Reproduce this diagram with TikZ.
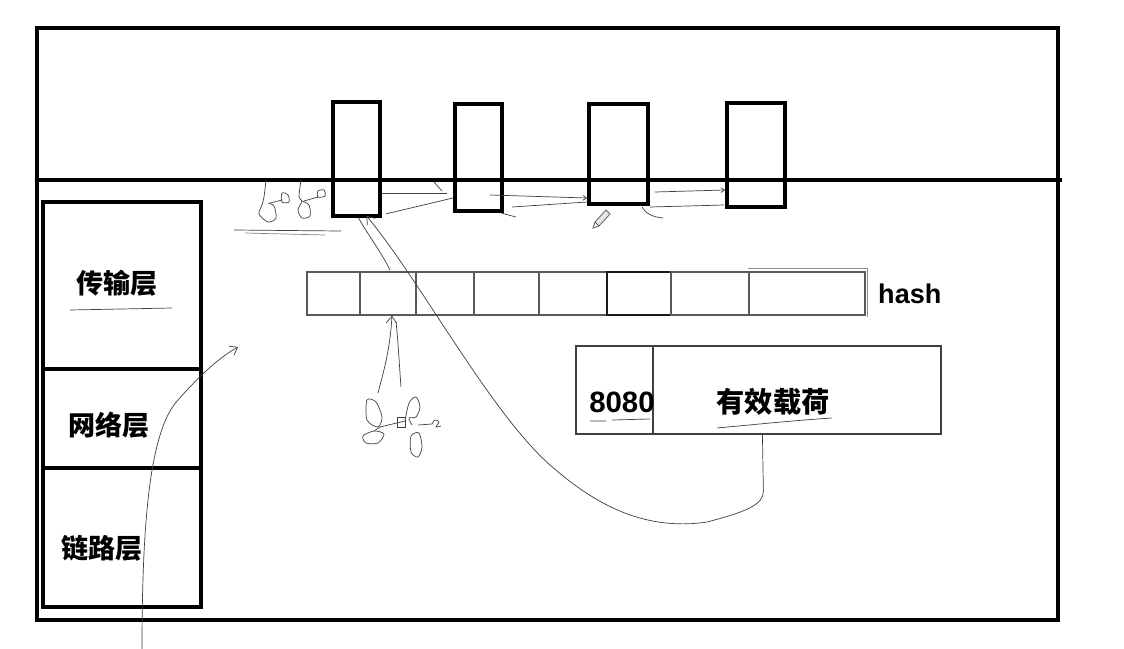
\documentclass[tikz,border=0pt]{standalone}
\usepackage{fontspec}
\setmainfont{Liberation Sans}
\newfontfamily\cjk{Noto Sans CJK SC}
\usetikzlibrary{fit,arrows.meta,calc}
\begin{document}
\begin{tikzpicture}[x=0.85pt,y=-0.85pt,
  framebox/.style={draw, line width=2.8pt, inner sep=0pt},
  tallbox/.style={draw, line width=3.2pt, inner sep=0pt},
  layerbox/.style={draw, line width=3.4pt, inner sep=0pt},
  cellbox/.style={draw=black!65, line width=0.9pt, inner sep=0pt},
  pktbox/.style={draw=black!75, line width=1pt, inner sep=0pt},
  hand/.style={draw=black!75, line width=0.6pt},
  barb/.style={-{Straight Barb[length=6pt,width=9pt]}},
  cjklbl/.style={font=\cjk\bfseries\fontsize{23}{26}\selectfont, inner sep=0pt},
  latlbl/.style={font=\bfseries\fontsize{23}{26}\selectfont, inner sep=0pt}]
\useasboundingbox (0,0) rectangle (1124,648);
\fill[white] (0,0) rectangle (1124,648);

% outer frame and band line
\node[framebox, fit={(37,28) (1058,620)}] (frame) {};
\coordinate (hlend) at (1062,180);
\draw[line width=2.8pt] (frame.west |- hlend) -- (hlend);

% tall boxes
\node[tallbox, fit={(333,102) (380,216)}] (b1) {};
\node[tallbox, fit={(455,104) (502,211)}] (b2) {};
\node[tallbox, fit={(589,104) (648,204)}] (b3) {};
\node[tallbox, fit={(727,103) (785,207)}] (b4) {};

% layer stack
\node[layerbox, fit={(43,202) (201,369)}] (l1) {};
\node[layerbox, fit={(43,369) (201,468)}] (l2) {};
\node[layerbox, fit={(43,468) (201,607)}] (l3) {};
\node[cjklbl] (t1) at (117,283) {传输层};
\node[cjklbl] (t2) at (109,425) {网络层};
\node[cjklbl] (t3) at (102,548) {链路层};
\draw[hand] (70,310) -- (172,308);

% hash array
\node[cellbox, fit={(307,272) (360,315)}] (h1) {};
\node[cellbox, fit={(360,272) (416,315)}] (h2) {};
\node[cellbox, fit={(416,272) (474,315)}] (h3) {};
\node[cellbox, fit={(474,272) (539,315)}] (h4) {};
\node[cellbox, fit={(539,272) (607,315)}] (h5) {};
\node[draw=black!90, line width=1.6pt, inner sep=0pt, fit={(607,272) (671,315)}] (h6) {};
\node[cellbox, fit={(671,272) (749,315)}] (h7) {};
\node[cellbox, fit={(749,272) (865,315)}] (h8) {};
\draw[black!45, line width=0.8pt] (h8.north west) ++(0,-3) -- ++(119,0) -- ++(0,49);
\node[latlbl, anchor=west] (hash) at (878,294) {hash};

% packet
\node[pktbox, fit={(576,346) (653,434)}] (port) {};
\node[pktbox, fit={(653,346) (941,434)}] (pay) {};
\node[latlbl, font=\bfseries\fontsize{25}{28}\selectfont] (p1) at (622,402) {8080};
\node[cjklbl, font=\cjk\bfseries\fontsize{24}{27}\selectfont] (p2) at (773,402) {有效载荷};
\draw[hand] (590,421) -- (606,421) (612,420) -- (650,419);
\draw[hand] (717,428) .. controls (760,424) and (800,420) .. (832,418);

% left rising arrow
\coordinate (lstart) at (142,650);
\coordinate (ltip) at (238,347);
\draw[hand, barb] (lstart) .. controls (142,520) and (150,430) .. (178,400)
   .. controls (200,375) and (220,357) .. (ltip);

% big curve from payload to first box
\coordinate (pstart) at ($(pay.south west)+(110,0)$);
\coordinate (b1tip) at ($(b1.south)+(10,-2)$);
\draw[hand, barb] (pstart) -- ++(1,56)
   .. controls (764,505) and (745,512) .. (707,522)
   .. controls (640,532) and (590,500) .. (550,465)
   .. controls (490,412) and (420,280) .. (b1tip);
\coordinate (b1tail) at (390,270);
\draw[hand] ($(b1.south)+(2,0)$) .. controls (368,235) and (380,250) .. (b1tail);

% arrow under hash cell
\coordinate (s1) at (378,393);
\coordinate (s2) at (401,387);
\draw[hand, barb] (s1) .. controls (384,370) and (390,350) .. (h2.south -| 392,0);
\draw[hand] (s2) .. controls (399,360) and (398,340) .. (396,322);

% scribbles below hash
\draw[hand] plot[smooth cycle] coordinates {(367,400) (376,402) (382,417) (378,427) (367,420)};
\draw[hand] (380,427) -- (405,421);
\draw[hand] plot[smooth] coordinates {(405,421) (409,403) (416,397) (420,407) (416,417) (409,418) (412,425)};
\draw[hand] plot[smooth cycle] coordinates {(363,436) (374,431) (384,434) (378,443) (366,443)};
\draw[hand] (374,431) -- (380,427);
\draw[hand] plot[smooth cycle] coordinates {(411,436) (419,433) (422,447) (418,457) (411,452)};
\draw[hand] (397,417) rectangle (405,427);
\draw[hand] (418,425) -- (432,424);
\draw[hand] plot[smooth] coordinates {(432,424) (435,420) (439,422) (436,427) (441,426)};

% scribbles upper left
\draw[hand] plot[smooth] coordinates {(266,180) (264,197) (262,205) (259,214) (268,222) (276,218) (274,206) (268,203)};
\draw[hand] (270,203) -- (282,200);
\draw[hand] plot[smooth cycle] coordinates {(282,193) (288,195) (289,202) (282,202)};
\draw[hand] plot[smooth] coordinates {(301,180) (299,197) (302,201) (298,210) (302,218) (310,216) (309,205) (302,201)};
\draw[hand] (304,201) -- (318,197);
\draw[hand] plot[smooth cycle] coordinates {(318,191) (324,190) (325,196) (318,197)};
\draw[hand] (234,230) -- (341,231);
\draw[hand, black!50] (245,233) -- (325,235);

% thin lines in band
\draw[hand] (b1.east |- 0,193) -- (447,193);
\draw[hand] (434,182) -- (442,191);
\draw[hand] ($(b1.south east)+(4,-4)$) -- (453,198);
\draw[hand, -{Straight Barb[length=3pt,width=4pt]}] (490,195) -- (b3.west |- 0,198);
\draw[hand] (512,207) -- (587,202);
\draw[hand] (501,213) -- (516,217);
\draw[hand, -{Straight Barb[length=3pt,width=4pt]}] (655,192) -- (b4.west |- 0,190);
\draw[hand] (650,207) -- (724,205);
\draw[hand] (642,207) .. controls (645,213) and (652,217) .. (663,218);

% pencil cursor
\draw[black!60, line width=0.7pt, fill=black!10] (595,222) -- (606,210) -- (610,214) -- (599,226) -- cycle;
\draw[black!60, line width=0.7pt] (595,222) -- (593,228) -- (599,226);
\end{tikzpicture}
\end{document}
